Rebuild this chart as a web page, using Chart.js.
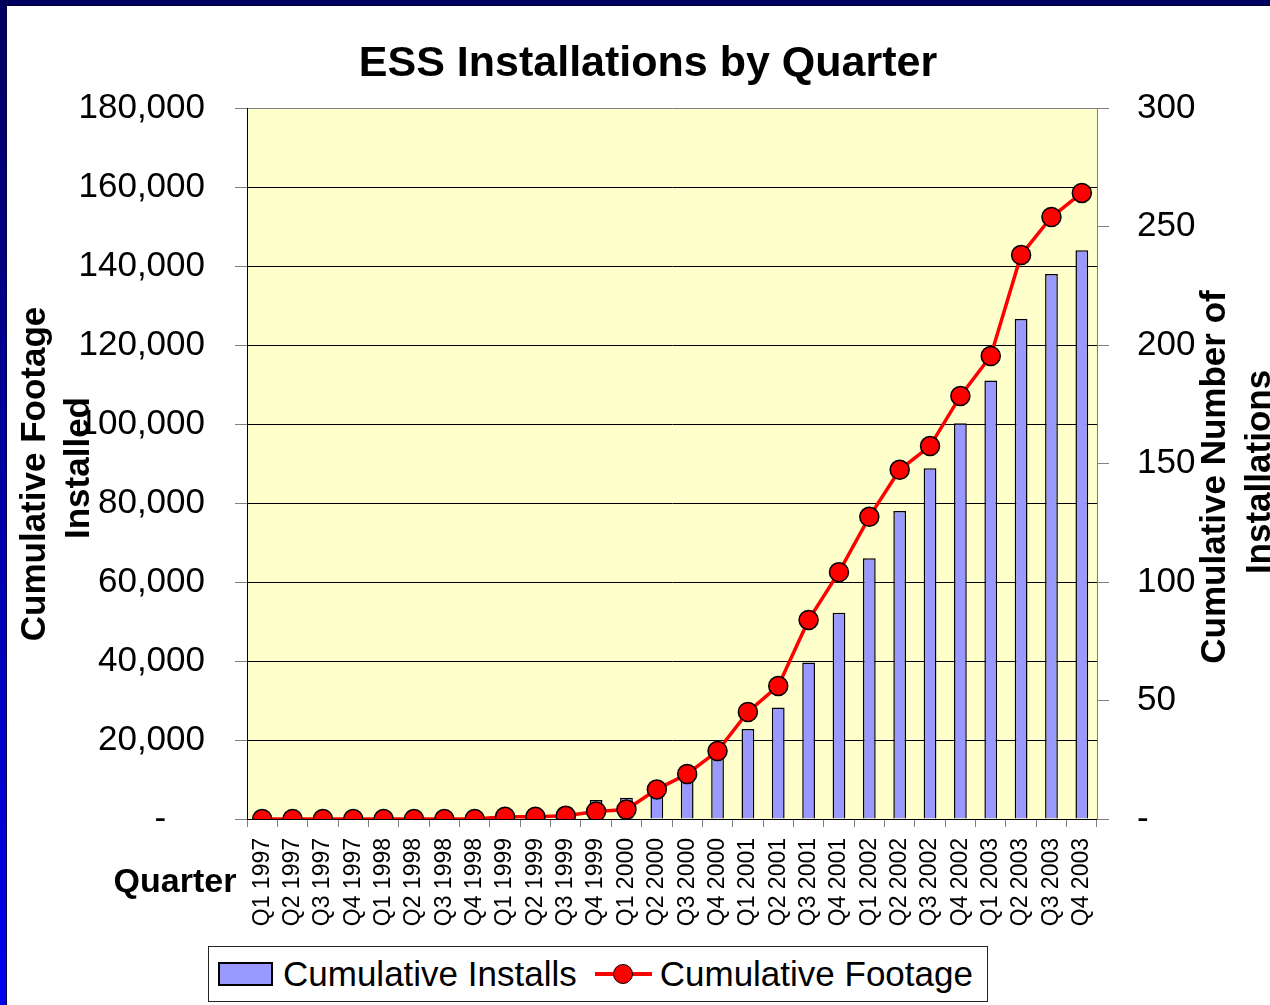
<!DOCTYPE html>
<html>
<head>
<meta charset="utf-8">
<title>ESS Installations by Quarter</title>
<script src="https://cdn.jsdelivr.net/npm/chart.js@4.4.1/dist/chart.umd.min.js"></script>
<style>
  body { margin: 0; background: #fff; overflow: hidden; }
  #wrap { position: relative; width: 1270px; height: 1005px; }
  #grafiek { position: absolute; left: 0; top: 0; }
  #rand-boven { position: absolute; left: 0; top: 0; width: 1270px; height: 5px;
    background: #00005e; border-bottom: 1px solid #000030; }
  #rand-links { position: absolute; left: 0; top: 0; width: 6px; height: 1005px;
    background: linear-gradient(to bottom, #00005e, #0000f0); border-right: 1px solid #000040; }
  #legenda { position: absolute; left: 208px; top: 946px; width: 778px; height: 54px;
    border: 1px solid #222; background: #fff; display: flex; align-items: center;
    font: 35px "Liberation Sans", Arial, sans-serif; color: #000; white-space: nowrap; }
  .vak { display: inline-block; box-sizing: border-box; width: 55px; height: 24px; margin-left: 9px; border: 2px solid #000; }
  .lijn { position: relative; display: inline-block; width: 57px; height: 22px; margin-left: 18px; }
  .lijn .streep { position: absolute; left: 0; right: 0; top: 9px; height: 4px; }
  .lijn .stip { position: absolute; left: 18px; top: 1px; width: 20px; height: 20px; box-sizing: border-box;
    border-radius: 50%; border: 1.5px solid #000; }
  .tekst { margin-left: 10px; }
  .tekst2 { margin-left: 8px; }
</style>
</head>
<body>
<div id="wrap">
  <canvas id="grafiek" width="1270" height="1005"></canvas>
  <div id="rand-boven"></div>
  <div id="rand-links"></div>
  <div id="legenda"></div>
</div>
<script>
// data
var kwartalen = ['Q1 1997', 'Q2 1997', 'Q3 1997', 'Q4 1997', 'Q1 1998', 'Q2 1998', 'Q3 1998', 'Q4 1998',
  'Q1 1999', 'Q2 1999', 'Q3 1999', 'Q4 1999', 'Q1 2000', 'Q2 2000', 'Q3 2000', 'Q4 2000',
  'Q1 2001', 'Q2 2001', 'Q3 2001', 'Q4 2001', 'Q1 2002', 'Q2 2002', 'Q3 2002', 'Q4 2002',
  'Q1 2003', 'Q2 2003', 'Q3 2003', 'Q4 2003'];
var installaties = [0, 0, 0, 0, 0, 0, 0, 0, 1, 2, 5, 8, 9, 10, 16, 26,
  38, 47, 66, 87, 110, 130, 148, 167, 185, 211, 230, 240];
var lengte = [0, 0, 0, 0, 0, 0, 0, 0, 600, 600, 800, 1900, 2400, 7500, 11400, 17200,
  27100, 33700, 50400, 62500, 76500, 88400, 94400, 107100, 117200, 142800, 152400, 158500];
var linksTicks = { min: 0, max: 180000, stap: 20000 };
var rechtsTicks = { min: 0, max: 300, stap: 50 };

Chart.defaults.font.family = '"Liberation Sans", Arial, sans-serif';
Chart.defaults.color = '#000';

// gele achtergrond van het plotvlak
var achtergrond = {
  id: 'achtergrond',
  beforeDraw: function(chart) {
    var a = chart.chartArea;
    var ctx = chart.ctx;
    ctx.save();
    ctx.fillStyle = '#FFFFCC';
    ctx.fillRect(a.left, a.top, a.right - a.left, a.bottom - a.top);
    ctx.restore();
  }
};

// astitels (beide van onder naar boven, zoals in Excel)
function staand(ctx, tekst, x, y) {
  ctx.save();
  ctx.translate(x, y);
  ctx.rotate(-Math.PI / 2);
  ctx.fillText(tekst, 0, 0);
  ctx.restore();
}
var astitels = {
  id: 'astitels',
  afterDraw: function(chart) {
    var ctx = chart.ctx;
    ctx.save();
    ctx.fillStyle = '#000';
    ctx.textAlign = 'center';
    ctx.textBaseline = 'middle';
    ctx.font = 'bold 35px "Liberation Sans", Arial, sans-serif';
    staand(ctx, 'Cumulative Footage', 35, 474);
    staand(ctx, 'Installed', 79, 468);
    staand(ctx, 'Cumulative Number of', 1215, 477);
    staand(ctx, 'Installations', 1260, 472);
    ctx.font = 'bold 34px "Liberation Sans", Arial, sans-serif';
    ctx.fillText('Quarter', 175, 883);
    ctx.restore();
  }
};

function grafiek() {
  var ctx = document.getElementById('grafiek');
  var myChart = new Chart(ctx, {
    type: 'bar',
    data: {
      labels: kwartalen,
      datasets: [{
        label: 'Cumulative Installs',
        data: installaties,
        yAxisID: 'y1',
        backgroundColor: '#9999FF',
        borderColor: '#000',
        borderWidth: 1.5,
        barPercentage: 0.42,
        categoryPercentage: 1.0,
        order: 1
      }, {
        type: 'line',
        label: 'Cumulative Footage',
        data: lengte,
        yAxisID: 'y',
        borderColor: '#FF0000',
        borderWidth: 3.5,
        pointRadius: 9.5,
        pointBackgroundColor: '#FF0000',
        pointBorderColor: '#000',
        pointBorderWidth: 1.5,
        tension: 0,
        order: 0
      }]
    },
    options: {
      responsive: false,
      animation: false,
      devicePixelRatio: 1,
      layout: { padding: { left: 26 } },
      plugins: {
        legend: { display: false },
        tooltip: { enabled: false },
        title: {
          display: true,
          text: 'ESS Installations by Quarter',
          color: '#000',
          font: { size: 43, weight: 'bold' },
          padding: { top: 38, bottom: 18.4 }
        }
      },
      scales: {
        x: {
          grid: { drawOnChartArea: false, color: '#808080', tickLength: 8, offset: true },
          border: { color: '#000' },
          ticks: { autoSkip: false, minRotation: 90, maxRotation: 90, padding: 11, font: { size: 23 } },
          afterFit: function(s) { s.height = 186; }
        },
        y: {
          position: 'left',
          min: linksTicks.min,
          max: linksTicks.max,
          grid: {
            color: function(c) { return c.tick && c.tick.value === linksTicks.max ? '#808080' : '#000'; },
            tickColor: '#808080',
            tickLength: 12
          },
          border: { color: '#000' },
          ticks: {
            stepSize: linksTicks.stap,
            padding: 30,
            font: { size: 35 },
            callback: function(v) { return v === 0 ? '-    ' : v.toLocaleString('en-US'); }
          },
          afterFit: function(s) { s.width = 221; }
        },
        y1: {
          position: 'right',
          min: rechtsTicks.min,
          max: rechtsTicks.max,
          grid: { drawOnChartArea: false, color: '#808080', tickLength: 12 },
          border: { color: '#808080' },
          ticks: {
            stepSize: rechtsTicks.stap,
            padding: 28,
            font: { size: 35 },
            callback: function(v) { return v === 0 ? '-' : v; }
          },
          afterFit: function(s) { s.width = 173; }
        }
      }
    },
    plugins: [achtergrond, astitels]
  });

  // legenda in html, opgebouwd uit de datasets
  var html = '';
  myChart.data.datasets.forEach(function(ds, i) {
    if (ds.type === 'line') {
      html += '<span class="lijn"><span class="streep" style="background:' + ds.borderColor + '"></span>' +
        '<span class="stip" style="background:' + ds.pointBackgroundColor + '"></span></span>' +
        '<span class="tekst2">' + ds.label + '</span>';
    } else {
      html += '<span class="vak" style="background:' + ds.backgroundColor + '"></span>' +
        '<span class="tekst">' + ds.label + '</span>';
    }
  });
  document.getElementById('legenda').innerHTML = html;
}

window.onload = function() {
  grafiek();
}
</script>
</body>
</html>
